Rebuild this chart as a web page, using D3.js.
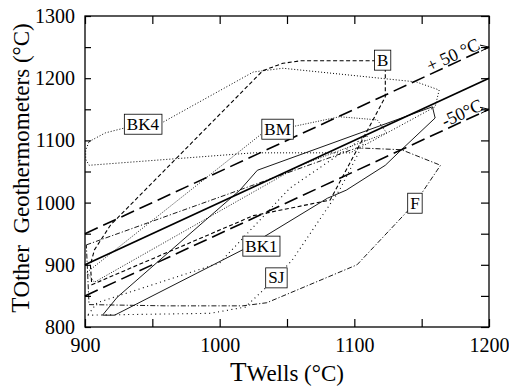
<!DOCTYPE html>
<html><head><meta charset="utf-8">
<script src="https://cdn.jsdelivr.net/npm/d3@7"></script>
<style>body{margin:0;background:#fff}svg{display:block}svg text{font-family:"Liberation Serif","DejaVu Serif",serif}</style>
</head><body>
<script>
// ---- data ----
const xTickValues = [900, 950, 1000, 1050, 1100, 1150, 1200];
const yTickValues = [800, 850, 900, 950, 1000, 1050, 1100, 1150, 1200, 1250, 1300];
const xTickLabels = ["900", "", "1000", "", "1100", "", "1200"];
const yTickLabels = ["800", "", "900", "", "1000", "", "1100", "", "1200", "", "1300"];

const refX = [900, 1200];
const oneToOneY = [900, 1200];
const plus50Y = [950, 1250];
const minus50Y = [850, 1150];

const bX = [1121, 1060, 1047, 1032, 919, 907, 904, 905, 1025, 1082, 1123, 1123];
const bY = [1228, 1228, 1224, 1212, 964, 924, 900, 868, 979, 1004, 1170, 1228];

const bk4X = [903, 915, 933, 956, 1025, 1047, 1146, 1163, 1160, 1097, 1025, 903, 900.5, 900.5];
const bk4Y = [1098, 1112, 1122, 1127, 1210, 1216, 1194, 1181, 1154, 1080, 1080, 1060, 1070, 1084];

const bmX = [901.5, 1032, 1043, 1056, 1089, 1117, 1124, 1060, 907];
const bmY = [888, 1112, 1118, 1123, 1138, 1133, 1112, 1060, 872];

const bk1X = [913, 922, 1017, 1080, 1094, 1123, 1135, 1160, 1158, 1028, 1015, 924, 913];
const bk1Y = [819, 819, 924, 1007, 1020, 1060, 1085, 1136, 1154, 1052, 1020, 848, 819];

const sjX = [902, 993, 1019, 1042, 1054, 1089, 1110, 1052, 1000, 909];
const sjY = [819, 822, 832, 879, 908, 1020, 1109, 1023, 903, 839];

const fX = [901, 1102, 1135, 1164, 1145, 1102, 1035, 1017, 960, 903];
const fY = [932, 1088, 1085, 1060, 999, 900, 839, 834, 834, 836];

const labelNames = ["B", "BK4", "BM", "BK1", "SJ", "F"];
const labelX = [1121, 943, 1043, 1031, 1042, 1145];
const labelY = [1229, 1126, 1118, 930, 879, 999];

// ---- layout ----
const W = 509, H = 387;
const L = 85, R = 489, T = 16, B = 327;

const svg = d3.select("body").append("svg").attr("width", W).attr("height", H);
const x = d3.scaleLinear().domain([900, 1200]).range([L, R]);
const y = d3.scaleLinear().domain([800, 1300]).range([B, T]);

const toPts = (xs, ys) => xs.map((v, i) => [x(v), y(ys[i])]);
const line = d3.line();

const plot = svg.append("g");

function poly(xs, ys, dash, width, closed = true) {
  const pts = toPts(xs, ys);
  plot.append("path")
    .attr("d", line(closed ? pts.concat([pts[0]]) : pts))
    .attr("fill", "none").attr("stroke", "#000")
    .attr("stroke-width", width)
    .attr("stroke-dasharray", dash)
    .attr("stroke-linejoin", "round");
}

poly(bk4X, bk4Y, "1,2", 1);
poly(bmX, bmY, "1,1.6", 0.9);
poly(sjX, sjY, "1,3.5", 1.1);
poly(fX, fY, "5,2,1.2,2", 0.9);
poly(bX, bY, "4,2.5", 1.1);
poly(bk1X, bk1Y, null, 0.9);

// reference lines
poly(refX, oneToOneY, null, 1.8, false);
poly(refX, plus50Y, "14,6", 1.6, false);
poly(refX, minus50Y, "14,6", 1.6, false);

// chevrons at right end
[plus50Y[1], minus50Y[1]].forEach(v => {
  const px = x(1200), py = y(v);
  svg.append("path")
    .attr("d", `M${px - 9},${py - 2}L${px},${py}L${px - 8},${py + 4}`)
    .attr("fill", "none").attr("stroke", "#000").attr("stroke-width", 1);
});

// rotated line labels
const ang = -Math.atan((y(800) - y(900)) / (x(1000) - x(900))) * 180 / Math.PI;
svg.append("text").text("+ 50 °C")
  .attr("transform", `translate(453,55) rotate(${ang})`)
  .attr("text-anchor", "middle").attr("dominant-baseline", "central")
  .attr("font-size", 18);
svg.append("text").text("-50°C")
  .attr("transform", `translate(462,113) rotate(${ang})`)
  .attr("text-anchor", "middle").attr("dominant-baseline", "central")
  .attr("font-size", 18);

// polygon labels
labelNames.forEach((n, i) => {
  const g = svg.append("g").attr("transform", `translate(${x(labelX[i])},${y(labelY[i])})`);
  const t = g.append("text").text(n)
    .attr("text-anchor", "middle").attr("dominant-baseline", "central")
    .attr("font-size", 17);
  const bb = t.node().getBBox();
  g.insert("rect", "text")
    .attr("x", bb.x - 2.5).attr("y", -10)
    .attr("width", bb.width + 5).attr("height", 20)
    .attr("fill", "#fff").attr("stroke", "#000").attr("stroke-width", 0.8);
});

// frame
svg.append("rect").attr("x", L).attr("y", T).attr("width", R - L).attr("height", B - T)
  .attr("fill", "none").attr("stroke", "#000").attr("stroke-width", 1.3);

// axes with inward ticks
const fmtX = (d) => xTickLabels[xTickValues.indexOf(d)];
const fmtY = (d) => yTickLabels[yTickValues.indexOf(d)];
function styleAxis(g) {
  g.select(".domain").remove();
  g.selectAll("line").attr("stroke", "#000").attr("stroke-width", 1.2);
  g.selectAll("text").attr("font-size", 20).attr("fill", "#000");
  g.attr("font-family", null);
}
svg.append("g").attr("transform", `translate(0,${B})`)
  .call(d3.axisBottom(x).tickValues(xTickValues).tickFormat(fmtX).tickSizeInner(-8).tickPadding(11))
  .call(styleAxis);
svg.append("g").attr("transform", `translate(0,${T})`)
  .call(d3.axisTop(x).tickValues(xTickValues).tickFormat("").tickSizeInner(-8))
  .call(styleAxis);
svg.append("g").attr("transform", `translate(${L},0)`)
  .call(d3.axisLeft(y).tickValues(yTickValues).tickFormat(fmtY).tickSizeInner(-6).tickPadding(10))
  .call(styleAxis);
svg.append("g").attr("transform", `translate(${R},0)`)
  .call(d3.axisRight(y).tickValues(yTickValues).tickFormat("").tickSizeInner(-8))
  .call(styleAxis);

// axis titles
const xt = svg.append("text").attr("x", (L + R) / 2).attr("y", 381)
  .attr("text-anchor", "middle").attr("fill", "#000");
xt.append("tspan").text("T").attr("font-size", 27);
xt.append("tspan").text("Wells (°C)").attr("font-size", 23);

const yt = svg.append("text").attr("transform", `translate(29,168) rotate(-90)`)
  .attr("text-anchor", "middle").attr("fill", "#000");
yt.append("tspan").text("T").attr("font-size", 25);
yt.append("tspan").text("Other\u00a0\u00a0Geothermometers (°C)").attr("font-size", 23);
</script>
</body></html>
